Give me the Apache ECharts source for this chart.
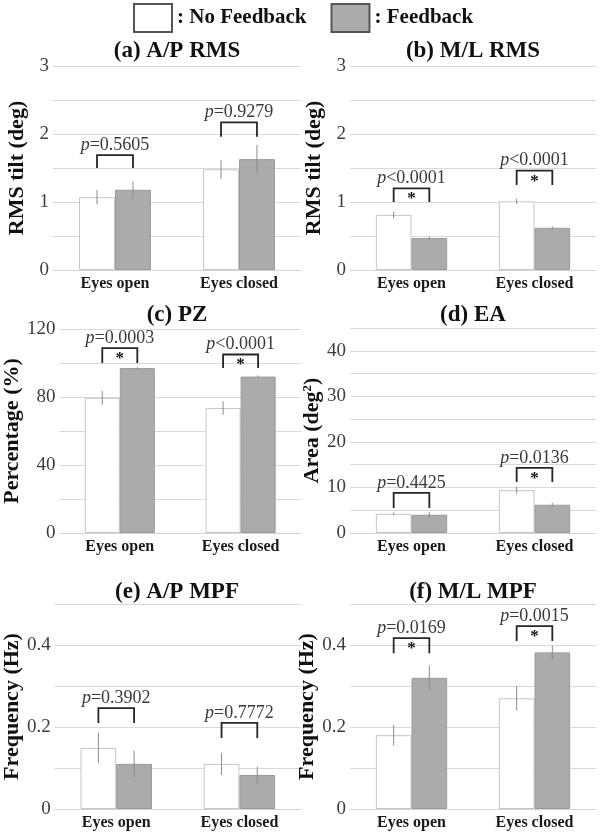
<!DOCTYPE html>
<html><head><meta charset="utf-8">
<script src="https://cdn.jsdelivr.net/npm/echarts@6/dist/echarts.min.js"></script>
<style>html,body{margin:0;padding:0;background:#fff}#c{width:600px;height:832px}</style>
</head><body><div id="c"></div>
<script>
const categories = ['Eyes open', 'Eyes closed'];
const seriesNames = ['No Feedback', 'Feedback'];

// (a) A/P RMS
const apRmsNoFb = [1.07, 1.48];
const apRmsFb = [1.18, 1.63];
const apRmsNoFbErr = [0.105, 0.14];
const apRmsFbErr = [0.125, 0.21];
const apRmsBracketTop = [1.69, 2.17];
const apRmsBracketLeg = [1.5, 1.96];
const apRmsP = ['=0.5605', '=0.9279'];
const apRmsStar = [false, false];
const apRmsTicks = [0, 1, 2, 3];

// (b) M/L RMS
const mlRmsNoFb = [0.81, 1.01];
const mlRmsFb = [0.47, 0.62];
const mlRmsNoFbErr = [0.05, 0.04];
const mlRmsFbErr = [0.02, 0.02];
const mlRmsBracketTop = [1.2, 1.46];
const mlRmsBracketLeg = [1.0, 1.25];
const mlRmsP = ['<0.0001', '<0.0001'];
const mlRmsStar = [true, true];
const mlRmsTicks = [0, 1, 2, 3];

// (c) PZ
const pzNoFb = [79.5, 73.5];
const pzFb = [97, 92];
const pzNoFbErr = [4, 4];
const pzFbErr = [0.5, 0.8];
const pzBracketTop = [108.8, 105];
const pzBracketLeg = [100, 97];
const pzP = ['=0.0003', '<0.0001'];
const pzStar = [true, true];
const pzTicks = [0, 40, 80, 120];

// (d) EA
const eaNoFb = [4.2, 9.4];
const eaFb = [4.0, 6.2];
const eaNoFbErr = [0.3, 0.8];
const eaFbErr = [0.6, 0.4];
const eaBracketTop = [8.8, 14.3];
const eaBracketLeg = [5.5, 11.2];
const eaP = ['=0.4425', '=0.0136'];
const eaStar = [false, true];
const eaTicks = [0, 10, 20, 30, 40];

// (e) A/P MPF
const apMpfNoFb = [0.149, 0.11];
const apMpfFb = [0.11, 0.083];
const apMpfNoFbErr = [0.037, 0.027];
const apMpfFbErr = [0.032, 0.02];
const apMpfBracketTop = [0.246, 0.21];
const apMpfBracketLeg = [0.21, 0.173];
const apMpfP = ['=0.3902', '=0.7772'];
const apMpfStar = [false, false];
const apMpfTicks = [0, 0.2, 0.4];

// (f) M/L MPF
const mlMpfNoFb = [0.18, 0.27];
const mlMpfFb = [0.32, 0.382];
const mlMpfNoFbErr = [0.025, 0.03];
const mlMpfFbErr = [0.03, 0.017];
const mlMpfBracketTop = [0.417, 0.446];
const mlMpfBracketLeg = [0.38, 0.41];
const mlMpfP = ['=0.0169', '=0.0015'];
const mlMpfStar = [true, true];
const mlMpfTicks = [0, 0.2, 0.4];

const panelTitles = ['(a) A/P RMS', '(b) M/L RMS', '(c) PZ', '(d) EA', '(e) A/P MPF', '(f) M/L MPF'];
const axisNames = ['RMS tilt (deg)', 'RMS tilt (deg)', 'Percentage (%)', 'Area (deg{s|2})', 'Frequency (Hz)', 'Frequency (Hz)'];

const panels = [
  {noFb: apRmsNoFb, fb: apRmsFb, noFbErr: apRmsNoFbErr, fbErr: apRmsFbErr, top: apRmsBracketTop, leg: apRmsBracketLeg, p: apRmsP, star: apRmsStar, ticks: apRmsTicks, max: 3, interval: 0.5},
  {noFb: mlRmsNoFb, fb: mlRmsFb, noFbErr: mlRmsNoFbErr, fbErr: mlRmsFbErr, top: mlRmsBracketTop, leg: mlRmsBracketLeg, p: mlRmsP, star: mlRmsStar, ticks: mlRmsTicks, max: 3, interval: 0.5},
  {noFb: pzNoFb, fb: pzFb, noFbErr: pzNoFbErr, fbErr: pzFbErr, top: pzBracketTop, leg: pzBracketLeg, p: pzP, star: pzStar, ticks: pzTicks, max: 120, interval: 20},
  {noFb: eaNoFb, fb: eaFb, noFbErr: eaNoFbErr, fbErr: eaFbErr, top: eaBracketTop, leg: eaBracketLeg, p: eaP, star: eaStar, ticks: eaTicks, max: 45, interval: 5},
  {noFb: apMpfNoFb, fb: apMpfFb, noFbErr: apMpfNoFbErr, fbErr: apMpfFbErr, top: apMpfBracketTop, leg: apMpfBracketLeg, p: apMpfP, star: apMpfStar, ticks: apMpfTicks, max: 0.5, interval: 0.1},
  {noFb: mlMpfNoFb, fb: mlMpfFb, noFbErr: mlMpfNoFbErr, fbErr: mlMpfFbErr, top: mlMpfBracketTop, leg: mlMpfBracketLeg, p: mlMpfP, star: mlMpfStar, ticks: mlMpfTicks, max: 0.5, interval: 0.1}
];

const layout = [
  {left: 53, top: 66, width: 248, height: 204, titleTop: 40},
  {left: 350, top: 66, width: 246, height: 204, titleTop: 40},
  {left: 53, top: 329, width: 248, height: 204, titleTop: 304},
  {left: 350, top: 328, width: 246, height: 205, titleTop: 304},
  {left: 53, top: 604, width: 248, height: 205, titleTop: 581},
  {left: 350, top: 604, width: 246, height: 205, titleTop: 581}
];

const FONT = '"Liberation Serif", "Times New Roman", serif';
const CAT_GAP = 0.42;

const grids = [], xAxes = [], yAxes = [], titles = [], series = [];

panels.forEach((pn, i) => {
  const L = layout[i];
  grids.push({left: L.left, top: L.top, width: L.width, height: L.height, containLabel: false});
  titles.push({
    text: panelTitles[i], left: L.left + L.width / 2, top: L.titleTop, textAlign: 'center', padding: 0,
    textStyle: {fontFamily: FONT, fontWeight: 'bold', fontSize: 23, color: '#111'}
  });
  xAxes.push({
    type: 'category', gridIndex: i, data: categories,
    axisLine: {lineStyle: {color: '#d4d4d4', width: 1}},
    axisTick: {show: false},
    axisLabel: {fontFamily: FONT, fontWeight: 'bold', fontSize: 16, color: '#1a1a1a', margin: 6}
  });
  const ticks = pn.ticks;
  yAxes.push({
    type: 'value', gridIndex: i, min: 0, max: pn.max, interval: pn.interval,
    name: axisNames[i], nameLocation: 'middle', nameGap: 25,
    nameTextStyle: {fontFamily: FONT, fontWeight: 'bold', fontSize: 22, color: '#111',
      rich: {s: {fontFamily: FONT, fontWeight: 'bold', fontSize: 13, color: '#111', verticalAlign: 'top', lineHeight: 22}}},
    axisLine: {show: false}, axisTick: {show: false},
    splitLine: {lineStyle: {color: '#d9d9d9', width: 1}},
    axisLabel: {
      fontFamily: FONT, fontSize: 19, color: '#3c3c3c', margin: 4,
      formatter: v => ticks.some(t => Math.abs(t - v) < 1e-9) ? String(+v.toFixed(4)) : ''
    }
  });
  series.push({
    type: 'bar', name: seriesNames[0], xAxisIndex: i, yAxisIndex: i, data: pn.noFb,
    barGap: '0%', barCategoryGap: (CAT_GAP * 100) + '%',
    itemStyle: {color: '#ffffff', borderColor: '#c6c6c6', borderWidth: 1}
  });
  series.push({
    type: 'bar', name: seriesNames[1], xAxisIndex: i, yAxisIndex: i, data: pn.fb,
    barGap: '0%', barCategoryGap: (CAT_GAP * 100) + '%',
    itemStyle: {color: '#ababab', borderColor: '#9a9a9a', borderWidth: 1}
  });
  const errData = [];
  [[pn.noFb, pn.noFbErr], [pn.fb, pn.fbErr]].forEach((pair, si) => {
    pair[0].forEach((v, ci) => errData.push([ci, si, v, pair[1][ci]]));
  });
  series.push({
    type: 'custom', xAxisIndex: i, yAxisIndex: i, z: 4, silent: true,
    encode: {x: 0, y: 2},
    data: errData,
    renderItem: (params, api) => {
      const ci = api.value(0), si = api.value(1), v = api.value(2), e = api.value(3);
      const band = api.size([1, 0])[0];
      const bw = band * (1 - CAT_GAP) / 2;
      const cx = api.coord([ci, v])[0] + (si === 0 ? -bw / 2 : bw / 2);
      const yt = api.coord([ci, v + e])[1], yb = api.coord([ci, v - e])[1];
      return {type: 'line', shape: {x1: cx, y1: yt, x2: cx, y2: yb}, style: {stroke: '#8c8c8c', lineWidth: 1}};
    }
  });
  const brData = pn.top.map((t, ci) => [ci, t, pn.leg[ci]]);
  series.push({
    type: 'custom', xAxisIndex: i, yAxisIndex: i, z: 5, silent: true,
    encode: {x: 0, y: 1},
    data: brData,
    renderItem: (params, api) => {
      const ci = api.value(0), top = api.value(1), leg = api.value(2);
      const band = api.size([1, 0])[0];
      const bw = band * (1 - CAT_GAP) / 2;
      const cx = api.coord([ci, top])[0];
      const yt = api.coord([ci, top])[1], yl = api.coord([ci, leg])[1];
      const x1 = cx - bw / 2, x2 = cx + bw / 2;
      const children = [
        {type: 'polyline', shape: {points: [[x1, yl], [x1, yt], [x2, yt], [x2, yl]]},
         style: {stroke: '#262626', lineWidth: 1.8, fill: null}},
        {type: 'text', style: {
          text: '{i|p}{n|' + pn.p[params.dataIndex] + '}', x: cx, y: yt - 1,
          align: 'center', verticalAlign: 'bottom',
          rich: {
            i: {fontFamily: FONT, fontStyle: 'italic', fontSize: 18, fill: '#3a3a3a'},
            n: {fontFamily: FONT, fontSize: 18, fill: '#3a3a3a'}
          }
        }}
      ];
      if (pn.star[params.dataIndex]) {
        children.push({type: 'text', style: {
          text: '*', x: cx, y: yt + 2, align: 'center', verticalAlign: 'top',
          font: 'bold 17px ' + FONT, fill: '#111'
        }});
      }
      return {type: 'group', children};
    }
  });
});

const chart = echarts.init(document.getElementById('c'), null, {renderer: 'canvas'});
chart.setOption({
  animation: false,
  backgroundColor: '#ffffff',
  title: titles,
  legend: {
    data: seriesNames, top: 3, left: 133, padding: 0, icon: 'rect', itemWidth: 38, itemHeight: 28, itemGap: 24,
    selectedMode: false, formatter: ': {name}',
    itemStyle: {borderColor: '#555555', borderWidth: 2},
    textStyle: {fontFamily: FONT, fontWeight: 'bold', fontSize: 21, color: '#111'}
  },
  grid: grids,
  xAxis: xAxes,
  yAxis: yAxes,
  series: series
});
</script>
</body></html>
